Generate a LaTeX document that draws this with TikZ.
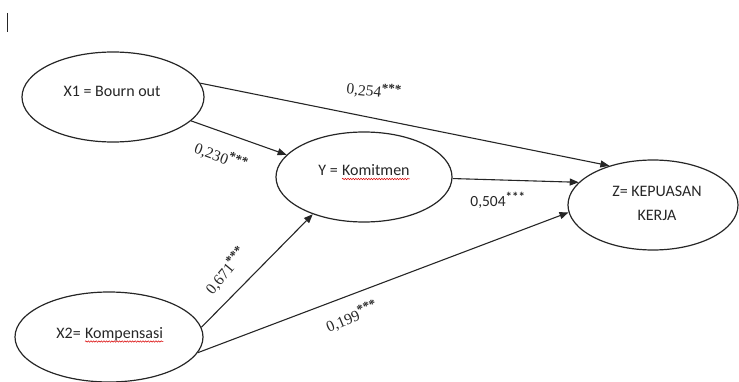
\documentclass[tikz,border=0pt]{standalone}
\usepackage{fontspec}
\setmainfont{Liberation Serif}
\newfontfamily\calfont{Carlito}
\usetikzlibrary{shapes.geometric,arrows.meta,decorations.pathmorphing}
\definecolor{ink}{HTML}{262626}
\newcommand{\stars}{\textsuperscript{\textbf{\fontsize{13}{13}\selectfont ***}}}
\begin{document}
\begin{tikzpicture}[x=1pt,y=-1pt,
  var/.style={ellipse,draw=ink,line width=1.2pt,inner sep=0pt},
  vtxt/.style={inner sep=0pt,text=ink,font=\calfont\fontsize{16}{18}\selectfont},
  coef/.style={inner sep=0pt,text=ink,font=\fontsize{15.5}{17}\selectfont},
  path/.style={draw=ink,line width=1.1pt,-{Triangle[length=9pt,width=7pt]}},
  spell/.style={draw=red!85!black,line width=0.5pt,decorate,decoration={snake,amplitude=0.7pt,segment length=2.6pt}}]
\useasboundingbox (0,0) rectangle (739,382);
% cursor mark
\coordinate (c1) at (7,13);
\coordinate (c2) at (7,32);
\draw[ink,line width=1pt] (c1) -- (c2);
% ellipses
\node[var,minimum width=182pt,minimum height=90pt] (X1) at (113,97) {};
\node[var,minimum width=176pt,minimum height=90pt] (Y) at (364,177) {};
\node[var,minimum width=170pt,minimum height=90pt] (Z) at (653,205) {};
\node[var,minimum width=188pt,minimum height=90pt] (X2) at (109,337) {};
% texts
\node[vtxt,anchor=base] (t1) at (112,97) {X1 = Bourn out};
\node[vtxt,anchor=base west] (tyb) at (342,176) {Komitmen};
\node[vtxt,anchor=base east] (tya) at ([xshift=-4pt]tyb.base west) {Y =};
\node[vtxt,anchor=base west] (t2b) at (85,338) {Kompensasi};
\node[vtxt,anchor=base east] (t2a) at ([xshift=-4pt]t2b.base west) {X2=};
\node[vtxt,anchor=base] (tz1) at (657,197) {Z= KEPUASAN};
\node[vtxt,anchor=base] (tz2) at (657,221) {KERJA};
\path[spell] ([yshift=-3pt]tyb.base west) -- ([yshift=-3pt]tyb.base east);
\path[spell] ([yshift=-3.5pt]t2b.base west) -- ([yshift=-3.5pt]t2b.base east);
% paths
\path[path] (X1.9) -- (Z.138);
\path[path] (X1.-17) -- (Y.164);
\path[path] (Y.-1) -- (Z.163);
\path[path] (X2.6) -- (Y.216);
\path[path] (X2.-10) -- (Z.185);
% coefficients
\node[coef,rotate=-6] (k1) at (374,91) {0,254\stars};
\node[coef,rotate=-20] (k2) at (221,157) {0,230\stars};
\node[coef,rotate=50] (k3) at (226,271) {0,671\stars};
\node[coef,rotate=23] (k4) at (352,317) {0,199\stars};
\node[coef,font=\calfont\fontsize{15.5}{17}\selectfont] (k5) at (498,200) {0,504\stars};
\end{tikzpicture}
\end{document}
